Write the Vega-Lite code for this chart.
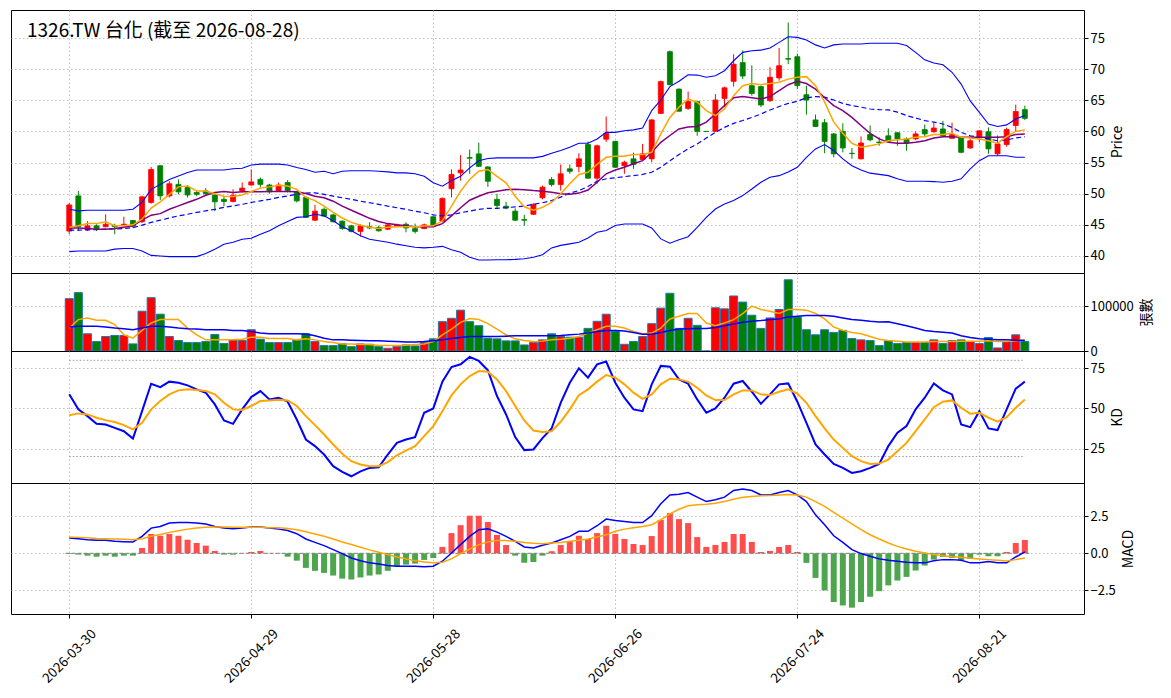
{
"$schema": "https://vega.github.io/schema/vega-lite/v6.json",
"background": "white",
"padding": {"left": 10, "top": 9, "right": 5, "bottom": 5},
"spacing": 0,
"bounds": "flush",
"datasets": {
"p": [
{"i":0,"date":"2026-03-30","o":44.0,"h":48.5,"l":43.5,"c":48.2,"v":116600,"ma5":44.6,"ma10":44.5,"ma20":44.15,"bbu":47.5,"bbl":40.7,"vma5":51100,"vma20":53400,"k":58.8,"d":45.8,"dif":1.04,"dea":1.10,"hist":-0.05},
{"i":1,"date":"2026-03-31","o":49.65,"h":50.45,"l":44.0,"c":44.7,"v":130100,"ma5":44.85,"ma10":44.5,"ma20":44.15,"bbu":47.25,"bbl":40.8,"vma5":70000,"vma20":54900,"k":49.4,"d":46.9,"dif":0.99,"dea":1.08,"hist":-0.09},
{"i":2,"date":"2026-04-01","o":44.2,"h":45.6,"l":44.0,"c":44.85,"v":38350,"ma5":45.2,"ma10":44.4,"ma20":44.2,"bbu":47.35,"bbl":40.8,"vma5":73700,"vma20":54900,"k":45.2,"d":46.25,"dif":0.92,"dea":1.06,"hist":-0.16},
{"i":3,"date":"2026-04-02","o":44.85,"h":45.1,"l":44.0,"c":44.4,"v":21050,"ma5":45.2,"ma10":44.3,"ma20":44.25,"bbu":47.35,"bbl":40.8,"vma5":68400,"vma20":54900,"k":40.4,"d":44.2,"dif":0.88,"dea":1.01,"hist":-0.23},
{"i":4,"date":"2026-04-07","o":44.7,"h":46.7,"l":44.6,"c":45.1,"v":32300,"ma5":45.5,"ma10":44.3,"ma20":44.3,"bbu":47.35,"bbl":40.8,"vma5":68400,"vma20":53400,"k":40.0,"d":42.7,"dif":0.88,"dea":0.99,"hist":-0.16},
{"i":5,"date":"2026-04-08","o":44.9,"h":45.2,"l":43.5,"c":44.7,"v":34600,"ma5":44.85,"ma10":44.4,"ma20":44.35,"bbu":47.35,"bbl":41.1,"vma5":58650,"vma20":51100,"k":37.9,"d":41.5,"dif":0.81,"dea":0.97,"hist":-0.23},
{"i":6,"date":"2026-04-09","o":44.85,"h":46.3,"l":44.6,"c":45.1,"v":34600,"ma5":44.85,"ma10":44.6,"ma20":44.4,"bbu":47.35,"bbl":41.2,"vma5":36100,"vma20":49500,"k":35.8,"d":39.6,"dif":0.79,"dea":0.95,"hist":-0.16},
{"i":7,"date":"2026-04-10","o":45.7,"h":45.8,"l":44.5,"c":44.8,"v":15800,"ma5":45.0,"ma10":44.85,"ma20":44.55,"bbu":47.5,"bbl":41.2,"vma5":28600,"vma20":47400,"k":31.25,"d":36.9,"dif":0.77,"dea":0.92,"hist":-0.16},
{"i":8,"date":"2026-04-13","o":45.5,"h":49.7,"l":45.3,"c":49.5,"v":88700,"ma5":45.9,"ma10":45.75,"ma20":44.95,"bbu":48.6,"bbl":40.8,"vma5":45900,"vma20":51100,"k":48.3,"d":41.0,"dif":1.15,"dea":0.99,"hist":0.36},
{"i":9,"date":"2026-04-14","o":48.6,"h":54.3,"l":48.4,"c":53.9,"v":118800,"ma5":47.7,"ma10":46.55,"ma20":45.4,"bbu":50.7,"bbl":40.1,"vma5":62400,"vma20":54900,"k":65.4,"d":49.4,"dif":1.71,"dea":1.15,"hist":1.31},
{"i":10,"date":"2026-04-15","o":54.5,"h":54.5,"l":49.0,"c":49.65,"v":82000,"ma5":48.7,"ma10":46.8,"ma20":45.75,"bbu":51.5,"bbl":40.0,"vma5":70000,"vma20":54900,"k":63.3,"d":54.6,"dif":1.82,"dea":1.28,"hist":1.19},
{"i":11,"date":"2026-04-16","o":49.65,"h":52.0,"l":49.4,"c":51.6,"v":32300,"ma5":49.9,"ma10":47.5,"ma20":46.1,"bbu":52.3,"bbl":39.9,"vma5":70000,"vma20":53400,"k":66.7,"d":58.75,"dif":2.05,"dea":1.42,"hist":1.31},
{"i":12,"date":"2026-04-17","o":51.5,"h":52.3,"l":49.9,"c":50.3,"v":23300,"ma5":51.1,"ma10":48.05,"ma20":46.45,"bbu":52.85,"bbl":39.9,"vma5":70000,"vma20":51100,"k":66.0,"d":61.25,"dif":2.09,"dea":1.53,"hist":1.19},
{"i":13,"date":"2026-04-20","o":51.0,"h":51.4,"l":49.4,"c":49.8,"v":18800,"ma5":51.25,"ma10":48.6,"ma20":46.7,"bbu":53.4,"bbl":39.9,"vma5":51100,"vma20":49600,"k":64.4,"d":61.9,"dif":2.09,"dea":1.64,"hist":0.92},
{"i":14,"date":"2026-04-21","o":50.2,"h":50.55,"l":49.6,"c":49.9,"v":18800,"ma5":50.45,"ma10":49.1,"ma20":47.0,"bbu":53.8,"bbl":39.9,"vma5":36100,"vma20":48900,"k":61.9,"d":61.5,"dif":2.05,"dea":1.71,"hist":0.70},
{"i":15,"date":"2026-04-22","o":50.45,"h":50.9,"l":49.8,"c":50.0,"v":21050,"ma5":50.45,"ma10":49.75,"ma20":47.25,"bbu":53.8,"bbl":40.4,"vma5":24800,"vma20":47400,"k":59.8,"d":60.8,"dif":1.98,"dea":1.76,"hist":0.52},
{"i":16,"date":"2026-04-23","o":49.8,"h":50.0,"l":47.2,"c":48.7,"v":36850,"ma5":50.0,"ma10":50.2,"ma20":47.5,"bbu":53.8,"bbl":41.1,"vma5":24800,"vma20":47400,"k":52.5,"d":58.75,"dif":1.82,"dea":1.78,"hist":0.16},
{"i":17,"date":"2026-04-24","o":49.1,"h":49.65,"l":48.0,"c":48.75,"v":16550,"ma5":49.6,"ma10":50.35,"ma20":47.8,"bbu":53.8,"bbl":41.9,"vma5":24800,"vma20":47400,"k":42.5,"d":53.5,"dif":1.71,"dea":1.78,"hist":-0.09},
{"i":18,"date":"2026-04-27","o":48.75,"h":50.7,"l":48.6,"c":49.75,"v":24800,"ma5":49.55,"ma10":50.2,"ma20":48.05,"bbu":54.0,"bbl":42.2,"vma5":24800,"vma20":45900,"k":40.4,"d":49.4,"dif":1.67,"dea":1.76,"hist":-0.09},
{"i":19,"date":"2026-04-28","o":50.45,"h":51.8,"l":50.2,"c":50.9,"v":23300,"ma5":49.8,"ma10":50.3,"ma20":48.3,"bbu":54.1,"bbl":42.7,"vma5":26300,"vma20":45900,"k":49.4,"d":49.0,"dif":1.71,"dea":1.76,"hist":0.0},
{"i":20,"date":"2026-04-29","o":51.4,"h":53.9,"l":51.3,"c":51.9,"v":47400,"ma5":50.35,"ma10":50.3,"ma20":48.6,"bbu":54.6,"bbl":42.85,"vma5":30800,"vma20":43600,"k":57.1,"d":51.5,"dif":1.78,"dea":1.76,"hist":0.09},
{"i":21,"date":"2026-04-30","o":52.3,"h":52.6,"l":51.0,"c":51.5,"v":26300,"ma5":50.9,"ma10":50.3,"ma20":48.85,"bbu":54.75,"bbl":43.5,"vma5":30800,"vma20":39900,"k":60.8,"d":54.6,"dif":1.78,"dea":1.76,"hist":0.16},
{"i":22,"date":"2026-05-04","o":51.4,"h":51.6,"l":50.0,"c":50.3,"v":18800,"ma5":51.1,"ma10":50.35,"ma20":49.1,"bbu":54.75,"bbl":44.05,"vma5":27800,"vma20":38350,"k":55.6,"d":55.0,"dif":1.71,"dea":1.73,"hist":0.01},
{"i":23,"date":"2026-05-05","o":50.45,"h":51.8,"l":50.3,"c":51.4,"v":18800,"ma5":51.35,"ma10":50.35,"ma20":49.4,"bbu":54.75,"bbl":44.85,"vma5":27800,"vma20":38350,"k":56.7,"d":55.4,"dif":1.64,"dea":1.73,"hist":-0.01},
{"i":24,"date":"2026-05-06","o":51.8,"h":52.2,"l":50.2,"c":50.5,"v":18800,"ma5":51.25,"ma10":50.35,"ma20":49.65,"bbu":54.6,"bbl":45.55,"vma5":27800,"vma20":38350,"k":54.2,"d":55.0,"dif":1.55,"dea":1.69,"hist":-0.23},
{"i":25,"date":"2026-05-07","o":50.3,"h":50.5,"l":48.6,"c":48.85,"v":24800,"ma5":50.7,"ma10":50.3,"ma20":49.9,"bbu":54.2,"bbl":46.2,"vma5":24800,"vma20":38350,"k":43.1,"d":51.5,"dif":1.33,"dea":1.60,"hist":-0.5},
{"i":26,"date":"2026-05-08","o":49.4,"h":49.6,"l":46.1,"c":46.2,"v":38350,"ma5":49.4,"ma10":50.05,"ma20":50.1,"bbu":53.9,"bbl":46.3,"vma5":27100,"vma20":38000,"k":30.6,"d":45.2,"dif":0.97,"dea":1.46,"hist":-0.99},
{"i":27,"date":"2026-05-11","o":45.75,"h":48.2,"l":45.6,"c":47.2,"v":21050,"ma5":48.9,"ma10":49.6,"ma20":50.15,"bbu":53.45,"bbl":46.7,"vma5":24800,"vma20":33800,"k":26.5,"d":39.6,"dif":0.74,"dea":1.31,"hist":-1.19},
{"i":28,"date":"2026-05-12","o":47.5,"h":47.8,"l":46.3,"c":46.4,"v":12000,"ma5":48.0,"ma10":49.35,"ma20":49.9,"bbu":53.6,"bbl":46.45,"vma5":21050,"vma20":28600,"k":21.25,"d":33.75,"dif":0.52,"dea":1.15,"hist":-1.33},
{"i":29,"date":"2026-05-13","o":46.6,"h":46.8,"l":45.4,"c":45.5,"v":12000,"ma5":47.0,"ma10":48.8,"ma20":49.6,"bbu":53.2,"bbl":45.65,"vma5":18800,"vma20":24800,"k":14.0,"d":27.5,"dif":0.25,"dea":0.97,"hist":-1.51},
{"i":30,"date":"2026-05-14","o":45.6,"h":45.7,"l":44.2,"c":44.4,"v":16550,"ma5":46.1,"ma10":48.0,"ma20":49.35,"bbu":53.6,"bbl":44.7,"vma5":15800,"vma20":24800,"k":10.4,"d":21.7,"dif":-0.02,"dea":0.77,"hist":-1.72},
{"i":31,"date":"2026-05-15","o":44.85,"h":45.0,"l":43.8,"c":43.95,"v":9800,"ma5":45.4,"ma10":47.35,"ma20":49.1,"bbu":53.7,"bbl":44.05,"vma5":15800,"vma20":24000,"k":7.7,"d":17.1,"dif":-0.32,"dea":0.59,"hist":-1.78},
{"i":32,"date":"2026-05-18","o":43.95,"h":45.1,"l":43.1,"c":44.85,"v":15800,"ma5":44.95,"ma10":46.7,"ma20":48.8,"bbu":53.7,"bbl":43.25,"vma5":14300,"vma20":23300,"k":10.8,"d":15.0,"dif":-0.50,"dea":0.41,"hist":-1.64},
{"i":33,"date":"2026-05-19","o":44.7,"h":45.4,"l":44.3,"c":44.5,"v":15000,"ma5":44.6,"ma10":46.05,"ma20":48.55,"bbu":53.7,"bbl":42.7,"vma5":14300,"vma20":22600,"k":12.9,"d":14.0,"dif":-0.65,"dea":0.23,"hist":-1.51},
{"i":34,"date":"2026-05-20","o":44.6,"h":44.85,"l":43.9,"c":44.05,"v":9800,"ma5":44.4,"ma10":45.55,"ma20":48.3,"bbu":53.6,"bbl":42.45,"vma5":12000,"vma20":22600,"k":13.3,"d":14.0,"dif":-0.72,"dea":0.07,"hist":-1.44},
{"i":35,"date":"2026-05-21","o":44.3,"h":45.2,"l":44.15,"c":45.0,"v":6000,"ma5":44.6,"ma10":45.2,"ma20":48.0,"bbu":53.5,"bbl":42.2,"vma5":12000,"vma20":21800,"k":21.25,"d":16.5,"dif":-0.83,"dea":-0.09,"hist":-1.19},
{"i":36,"date":"2026-05-22","o":44.8,"h":45.2,"l":44.7,"c":45.0,"v":9800,"ma5":44.7,"ma10":45.0,"ma20":47.75,"bbu":53.35,"bbl":41.9,"vma5":12000,"vma20":21050,"k":28.5,"d":20.8,"dif":-0.88,"dea":-0.25,"hist":-0.88},
{"i":37,"date":"2026-05-25","o":45.1,"h":45.4,"l":43.8,"c":44.5,"v":13500,"ma5":44.7,"ma10":44.85,"ma20":47.5,"bbu":53.35,"bbl":41.65,"vma5":12800,"vma20":20300,"k":30.6,"d":23.75,"dif":-0.88,"dea":-0.38,"hist":-0.77},
{"i":38,"date":"2026-05-26","o":44.4,"h":45.2,"l":43.6,"c":43.95,"v":11300,"ma5":44.7,"ma10":44.7,"ma20":47.2,"bbu":53.2,"bbl":41.4,"vma5":14300,"vma20":20300,"k":32.1,"d":26.5,"dif":-0.88,"dea":-0.50,"hist":-0.70},
{"i":39,"date":"2026-05-27","o":44.4,"h":45.2,"l":44.3,"c":45.0,"v":18800,"ma5":44.8,"ma10":44.7,"ma20":46.95,"bbu":52.8,"bbl":41.3,"vma5":15800,"vma20":21050,"k":47.3,"d":32.7,"dif":-0.92,"dea":-0.59,"hist":-0.45},
{"i":40,"date":"2026-05-28","o":46.3,"h":46.4,"l":44.7,"c":44.85,"v":27100,"ma5":44.85,"ma10":44.7,"ma20":46.6,"bbu":51.75,"bbl":41.4,"vma5":21050,"vma20":22600,"k":50.0,"d":39.0,"dif":-0.88,"dea":-0.65,"hist":-0.32},
{"i":41,"date":"2026-05-29","o":45.6,"h":49.4,"l":45.5,"c":49.25,"v":65400,"ma5":45.65,"ma10":45.2,"ma20":46.45,"bbu":51.2,"bbl":41.55,"vma5":36100,"vma20":24800,"k":66.7,"d":48.3,"dif":-0.54,"dea":-0.61,"hist":0.43},
{"i":42,"date":"2026-06-01","o":50.8,"h":53.9,"l":49.4,"c":53.1,"v":72900,"ma5":48.0,"ma10":46.45,"ma20":46.6,"bbu":52.1,"bbl":41.0,"vma5":48900,"vma20":27800,"k":75.8,"d":58.1,"dif":0.02,"dea":-0.38,"hist":1.37},
{"i":43,"date":"2026-06-02","o":53.35,"h":56.2,"l":52.1,"c":53.8,"v":91000,"ma5":50.4,"ma10":47.75,"ma20":46.95,"bbu":52.8,"bbl":40.6,"vma5":63900,"vma20":30100,"k":77.5,"d":65.0,"dif":0.59,"dea":-0.02,"hist":1.91},
{"i":44,"date":"2026-06-03","o":55.8,"h":57.1,"l":53.2,"c":55.7,"v":65400,"ma5":52.3,"ma10":48.95,"ma20":47.2,"bbu":54.15,"bbl":39.8,"vma5":72200,"vma20":32300,"k":82.1,"d":70.2,"dif":1.15,"dea":0.29,"hist":2.55},
{"i":45,"date":"2026-06-04","o":56.4,"h":58.2,"l":54.3,"c":54.4,"v":56400,"ma5":53.6,"ma10":49.6,"ma20":47.5,"bbu":55.3,"bbl":39.35,"vma5":70000,"vma20":32300,"k":79.6,"d":73.3,"dif":1.60,"dea":0.59,"hist":2.55},
{"i":46,"date":"2026-06-05","o":54.3,"h":54.4,"l":51.1,"c":52.0,"v":28600,"ma5":53.9,"ma10":50.15,"ma20":47.65,"bbu":55.65,"bbl":39.35,"vma5":60900,"vma20":32300,"k":73.75,"d":72.9,"dif":1.67,"dea":0.77,"hist":2.12},
{"i":47,"date":"2026-06-08","o":49.1,"h":50.0,"l":47.65,"c":48.1,"v":27100,"ma5":52.8,"ma10":50.4,"ma20":47.65,"bbu":55.75,"bbl":39.4,"vma5":48900,"vma20":32300,"k":57.7,"d":68.1,"dif":1.44,"dea":0.86,"hist":1.24},
{"i":48,"date":"2026-06-09","o":48.0,"h":48.7,"l":47.5,"c":47.7,"v":22560,"ma5":51.75,"ma10":50.65,"ma20":47.75,"bbu":55.75,"bbl":39.4,"vma5":36100,"vma20":33000,"k":46.25,"d":60.8,"dif":1.15,"dea":0.86,"hist":0.56},
{"i":49,"date":"2026-06-10","o":47.2,"h":47.65,"l":45.6,"c":45.75,"v":22560,"ma5":49.6,"ma10":50.7,"ma20":47.9,"bbu":55.75,"bbl":39.45,"vma5":27100,"vma20":33800,"k":32.1,"d":51.5,"dif":0.81,"dea":0.81,"hist":-0.16},
{"i":50,"date":"2026-06-11","o":45.85,"h":46.6,"l":44.85,"c":45.75,"v":13500,"ma5":47.9,"ma10":50.65,"ma20":48.0,"bbu":55.75,"bbl":39.55,"vma5":23300,"vma20":33800,"k":24.0,"d":42.5,"dif":0.43,"dea":0.74,"hist":-0.65},
{"i":51,"date":"2026-06-12","o":46.7,"h":48.45,"l":46.6,"c":48.3,"v":18800,"ma5":47.35,"ma10":50.5,"ma20":48.3,"bbu":55.75,"bbl":39.8,"vma5":21050,"vma20":33800,"k":24.4,"d":36.25,"dif":0.36,"dea":0.68,"hist":-0.59},
{"i":52,"date":"2026-06-15","o":49.35,"h":51.3,"l":49.1,"c":51.05,"v":24800,"ma5":47.8,"ma10":50.4,"ma20":48.55,"bbu":56.0,"bbl":40.2,"vma5":22000,"vma20":33800,"k":31.5,"d":35.3,"dif":0.55,"dea":0.64,"hist":-0.16},
{"i":53,"date":"2026-06-16","o":52.27,"h":52.65,"l":51.15,"c":51.47,"v":38350,"ma5":48.6,"ma10":50.25,"ma20":48.9,"bbu":56.5,"bbl":41.3,"vma5":24800,"vma20":33800,"k":37.5,"d":35.8,"dif":0.70,"dea":0.70,"hist":0.14},
{"i":54,"date":"2026-06-17","o":51.47,"h":54.7,"l":50.5,"c":53.2,"v":32300,"ma5":50.0,"ma10":50.0,"ma20":49.45,"bbu":56.95,"bbl":41.7,"vma5":26300,"vma20":34500,"k":53.5,"d":41.7,"dif":0.92,"dea":0.74,"hist":0.56},
{"i":55,"date":"2026-06-18","o":54.0,"h":54.7,"l":53.2,"c":53.6,"v":30800,"ma5":51.6,"ma10":49.9,"ma20":50.1,"bbu":57.45,"bbl":41.95,"vma5":28600,"vma20":36100,"k":66.0,"d":49.4,"dif":1.15,"dea":0.81,"hist":0.81},
{"i":56,"date":"2026-06-22","o":54.35,"h":56.5,"l":53.45,"c":55.6,"v":30800,"ma5":53.1,"ma10":50.1,"ma20":50.5,"bbu":58.1,"bbl":42.2,"vma5":32300,"vma20":37600,"k":75.0,"d":58.3,"dif":1.49,"dea":0.88,"hist":1.19},
{"i":57,"date":"2026-06-23","o":57.9,"h":58.4,"l":52.4,"c":52.5,"v":50400,"ma5":53.45,"ma10":50.6,"ma20":51.15,"bbu":58.1,"bbl":42.9,"vma5":39900,"vma20":39900,"k":69.2,"d":61.9,"dif":1.49,"dea":0.97,"hist":0.97},
{"i":58,"date":"2026-06-24","o":52.5,"h":57.9,"l":51.6,"c":57.7,"v":66200,"ma5":54.7,"ma10":51.85,"ma20":52.0,"bbu":58.8,"bbl":43.8,"vma5":47400,"vma20":43600,"k":77.5,"d":66.7,"dif":1.87,"dea":1.10,"hist":1.37},
{"i":59,"date":"2026-06-25","o":58.75,"h":62.4,"l":58.3,"c":59.7,"v":82000,"ma5":55.85,"ma10":53.2,"ma20":52.4,"bbu":59.85,"bbl":44.1,"vma5":54900,"vma20":45900,"k":79.2,"d":70.8,"dif":2.32,"dea":1.26,"hist":1.87},
{"i":60,"date":"2026-06-26","o":58.4,"h":58.5,"l":54.2,"c":54.25,"v":43600,"ma5":56.0,"ma10":53.8,"ma20":52.55,"bbu":59.85,"bbl":44.9,"vma5":54900,"vma20":45900,"k":66.0,"d":69.2,"dif":2.23,"dea":1.49,"hist":1.31},
{"i":61,"date":"2026-06-29","o":54.5,"h":55.3,"l":53.2,"c":55.05,"v":15000,"ma5":56.0,"ma10":54.25,"ma20":52.75,"bbu":60.1,"bbl":45.15,"vma5":51100,"vma20":44800,"k":56.7,"d":65.0,"dif":2.16,"dea":1.64,"hist":0.97},
{"i":62,"date":"2026-06-30","o":55.6,"h":56.6,"l":54.0,"c":54.7,"v":21050,"ma5":56.3,"ma10":54.8,"ma20":52.9,"bbu":60.25,"bbl":45.15,"vma5":43600,"vma20":41400,"k":49.4,"d":59.8,"dif":2.09,"dea":1.73,"hist":0.63},
{"i":63,"date":"2026-07-01","o":55.5,"h":58.0,"l":55.3,"c":56.4,"v":32300,"ma5":56.3,"ma10":55.3,"ma20":53.1,"bbu":60.55,"bbl":45.15,"vma5":38350,"vma20":37600,"k":48.3,"d":56.0,"dif":2.09,"dea":1.82,"hist":0.56},
{"i":64,"date":"2026-07-02","o":55.6,"h":62.0,"l":55.05,"c":61.85,"v":60900,"ma5":56.65,"ma10":56.65,"ma20":53.45,"bbu":63.35,"bbl":44.5,"vma5":39900,"vma20":37600,"k":65.0,"d":58.75,"dif":2.55,"dea":1.94,"hist":1.17},
{"i":65,"date":"2026-07-03","o":62.9,"h":68.15,"l":62.8,"c":68.0,"v":95500,"ma5":59.6,"ma10":58.25,"ma20":54.25,"bbu":65.05,"bbl":42.75,"vma5":51100,"vma20":41400,"k":76.5,"d":65.0,"dif":3.36,"dea":2.27,"hist":2.27},
{"i":66,"date":"2026-07-06","o":72.8,"h":73.0,"l":67.4,"c":67.5,"v":128600,"ma5":62.25,"ma10":59.35,"ma20":55.3,"bbu":67.2,"bbl":42.05,"vma5":71400,"vma20":45900,"k":76.0,"d":68.5,"dif":3.96,"dea":2.68,"hist":2.73},
{"i":67,"date":"2026-07-07","o":66.8,"h":66.9,"l":63.2,"c":63.25,"v":50400,"ma5":63.9,"ma10":60.4,"ma20":56.3,"bbu":68.05,"bbl":42.6,"vma5":77500,"vma20":48900,"k":68.1,"d":68.1,"dif":4.01,"dea":2.99,"hist":2.32},
{"i":68,"date":"2026-07-08","o":63.7,"h":66.4,"l":63.45,"c":64.8,"v":72900,"ma5":65.2,"ma10":60.7,"ma20":57.2,"bbu":69.1,"bbl":43.1,"vma5":83500,"vma20":49500,"k":65.4,"d":66.7,"dif":4.12,"dea":3.22,"hist":2.05},
{"i":69,"date":"2026-07-09","o":64.8,"h":64.95,"l":59.3,"c":60.0,"v":57150,"ma5":64.7,"ma10":60.8,"ma20":58.0,"bbu":69.05,"bbl":44.6,"vma5":83500,"vma20":50400,"k":55.6,"d":62.9,"dif":3.81,"dea":3.29,"hist":1.10},
{"i":70,"date":"2026-07-10","o":60.0,"h":60.0,"l":60.0,"c":60.0,"v":0,"ma5":63.35,"ma10":61.5,"ma20":58.95,"bbu":68.7,"bbl":46.2,"vma5":62400,"vma20":50400,"k":47.3,"d":58.1,"dif":3.51,"dea":3.33,"hist":0.43},
{"i":71,"date":"2026-07-13","o":60.0,"h":66.0,"l":60.0,"c":65.05,"v":96300,"ma5":62.55,"ma10":62.8,"ma20":59.85,"bbu":68.95,"bbl":47.55,"vma5":56400,"vma20":52600,"k":50.0,"d":55.2,"dif":3.63,"dea":3.40,"hist":0.56},
{"i":72,"date":"2026-07-14","o":65.3,"h":67.2,"l":63.9,"c":67.0,"v":94000,"ma5":63.6,"ma10":64.15,"ma20":60.65,"bbu":69.75,"bbl":48.35,"vma5":62400,"vma20":56400,"k":56.7,"d":55.2,"dif":3.81,"dea":3.51,"hist":0.77},
{"i":73,"date":"2026-07-15","o":68.05,"h":72.4,"l":67.2,"c":70.8,"v":122600,"ma5":65.75,"ma10":65.4,"ma20":61.3,"bbu":71.35,"bbl":48.9,"vma5":70000,"vma20":60200,"k":65.4,"d":58.75,"dif":4.26,"dea":3.67,"hist":1.31},
{"i":74,"date":"2026-07-16","o":71.05,"h":73.0,"l":68.4,"c":68.9,"v":109000,"ma5":67.35,"ma10":65.6,"ma20":61.75,"bbu":72.7,"bbl":49.7,"vma5":83500,"vma20":63900,"k":67.1,"d":61.25,"dif":4.37,"dea":3.81,"hist":1.31},
{"i":75,"date":"2026-07-17","o":67.35,"h":70.6,"l":65.75,"c":66.1,"v":79700,"ma5":67.7,"ma10":65.4,"ma20":62.25,"bbu":72.95,"bbl":50.75,"vma5":100000,"vma20":66200,"k":60.4,"d":61.25,"dif":4.26,"dea":3.85,"hist":0.77},
{"i":76,"date":"2026-07-20","o":67.2,"h":67.35,"l":63.9,"c":64.25,"v":50400,"ma5":67.5,"ma10":65.2,"ma20":62.8,"bbu":73.05,"bbl":51.85,"vma5":92500,"vma20":67700,"k":52.9,"d":58.75,"dif":3.96,"dea":3.90,"hist":0.09},
{"i":77,"date":"2026-07-21","o":64.95,"h":70.3,"l":64.7,"c":68.7,"v":73700,"ma5":67.7,"ma10":65.6,"ma20":63.45,"bbu":73.4,"bbl":52.65,"vma5":88700,"vma20":70000,"k":58.75,"d":58.3,"dif":3.96,"dea":3.92,"hist":0.16},
{"i":78,"date":"2026-07-22","o":68.6,"h":73.4,"l":68.15,"c":70.55,"v":92500,"ma5":67.9,"ma10":66.55,"ma20":64.0,"bbu":74.3,"bbl":52.9,"vma5":83500,"vma20":71400,"k":65.0,"d":60.4,"dif":4.12,"dea":3.96,"hist":0.43},
{"i":79,"date":"2026-07-23","o":71.7,"h":77.5,"l":70.8,"c":71.6,"v":158700,"ma5":68.4,"ma10":67.5,"ma20":64.5,"bbu":75.2,"bbl":53.5,"vma5":92500,"vma20":76000,"k":65.6,"d":61.9,"dif":4.26,"dea":3.99,"hist":0.56},
{"i":80,"date":"2026-07-24","o":72.0,"h":72.5,"l":66.8,"c":67.35,"v":76000,"ma5":68.7,"ma10":68.05,"ma20":64.85,"bbu":75.1,"bbl":54.25,"vma5":92500,"vma20":77500,"k":54.2,"d":59.2,"dif":3.96,"dea":3.96,"hist":0.09},
{"i":81,"date":"2026-07-27","o":65.9,"h":67.35,"l":62.7,"c":65.05,"v":47400,"ma5":68.8,"ma10":67.7,"ma20":65.4,"bbu":74.7,"bbl":55.85,"vma5":91000,"vma20":79000,"k":41.0,"d":53.5,"dif":3.51,"dea":3.81,"hist":-0.65},
{"i":82,"date":"2026-07-28","o":61.85,"h":62.7,"l":60.7,"c":60.8,"v":36100,"ma5":67.35,"ma10":66.8,"ma20":65.6,"bbu":73.9,"bbl":57.2,"vma5":83500,"vma20":79000,"k":27.5,"d":45.2,"dif":2.61,"dea":3.51,"hist":-1.67},
{"i":83,"date":"2026-07-29","o":61.4,"h":62.0,"l":56.5,"c":58.4,"v":47400,"ma5":64.7,"ma10":65.4,"ma20":65.5,"bbu":73.4,"bbl":57.9,"vma5":71400,"vma20":79000,"k":21.25,"d":37.5,"dif":1.94,"dea":3.18,"hist":-2.52},
{"i":84,"date":"2026-07-30","o":59.6,"h":59.75,"l":55.85,"c":56.4,"v":41400,"ma5":61.5,"ma10":64.15,"ma20":65.05,"bbu":73.9,"bbl":56.95,"vma5":53400,"vma20":77500,"k":15.4,"d":30.6,"dif":1.19,"dea":2.77,"hist":-3.31},
{"i":85,"date":"2026-07-31","o":60.0,"h":61.3,"l":56.65,"c":57.35,"v":45900,"ma5":59.7,"ma10":63.35,"ma20":64.5,"bbu":74.05,"bbl":55.6,"vma5":45900,"vma20":73700,"k":12.9,"d":25.4,"dif":0.74,"dea":2.39,"hist":-3.54},
{"i":86,"date":"2026-08-03","o":56.5,"h":57.35,"l":55.6,"c":56.45,"v":27800,"ma5":58.1,"ma10":62.25,"ma20":64.15,"bbu":74.05,"bbl":54.5,"vma5":41400,"vma20":70000,"k":9.8,"d":20.2,"dif":0.25,"dea":2.00,"hist":-3.69},
{"i":87,"date":"2026-08-04","o":55.6,"h":59.2,"l":55.5,"c":58.15,"v":24800,"ma5":57.45,"ma10":60.95,"ma20":63.9,"bbu":74.05,"bbl":53.8,"vma5":38350,"vma20":68400,"k":10.8,"d":17.1,"dif":-0.02,"dea":1.60,"hist":-3.31},
{"i":88,"date":"2026-08-05","o":59.5,"h":60.95,"l":58.4,"c":58.65,"v":23300,"ma5":57.7,"ma10":59.7,"ma20":63.6,"bbu":74.15,"bbl":53.3,"vma5":32300,"vma20":66200,"k":12.9,"d":15.4,"dif":-0.20,"dea":1.26,"hist":-2.95},
{"i":89,"date":"2026-08-06","o":58.3,"h":59.05,"l":57.7,"c":58.2,"v":12000,"ma5":58.0,"ma10":58.8,"ma20":63.5,"bbu":74.15,"bbl":53.1,"vma5":26300,"vma20":64700,"k":15.4,"d":15.6,"dif":-0.38,"dea":0.97,"hist":-2.57},
{"i":90,"date":"2026-08-07","o":59.3,"h":60.5,"l":58.15,"c":58.4,"v":22560,"ma5":58.5,"ma10":58.25,"ma20":63.45,"bbu":74.15,"bbl":52.9,"vma5":23300,"vma20":65400,"k":26.5,"d":18.1,"dif":-0.47,"dea":0.70,"hist":-2.18},
{"i":91,"date":"2026-08-10","o":59.8,"h":59.85,"l":57.7,"c":58.8,"v":16550,"ma5":58.65,"ma10":58.1,"ma20":63.1,"bbu":74.15,"bbl":52.4,"vma5":21800,"vma20":60900,"k":34.8,"d":23.3,"dif":-0.54,"dea":0.47,"hist":-1.85},
{"i":92,"date":"2026-08-11","o":58.8,"h":59.05,"l":56.9,"c":58.15,"v":18800,"ma5":58.8,"ma10":58.1,"ma20":62.55,"bbu":73.8,"bbl":52.0,"vma5":20300,"vma20":56400,"k":39.0,"d":28.5,"dif":-0.61,"dea":0.29,"hist":-1.60},
{"i":93,"date":"2026-08-12","o":58.8,"h":60.0,"l":58.6,"c":59.6,"v":18800,"ma5":59.05,"ma10":58.25,"ma20":62.15,"bbu":72.7,"bbl":52.0,"vma5":20300,"vma20":51100,"k":49.4,"d":35.8,"dif":-0.65,"dea":0.14,"hist":-1.17},
{"i":94,"date":"2026-08-13","o":60.3,"h":61.1,"l":59.2,"c":59.6,"v":18800,"ma5":59.15,"ma10":58.5,"ma20":61.75,"bbu":71.5,"bbl":52.0,"vma5":20300,"vma20":45900,"k":56.7,"d":43.1,"dif":-0.65,"dea":0.02,"hist":-0.83},
{"i":95,"date":"2026-08-14","o":59.95,"h":61.45,"l":59.8,"c":60.55,"v":24800,"ma5":59.5,"ma10":58.95,"ma20":61.5,"bbu":71.0,"bbl":51.95,"vma5":21050,"vma20":43600,"k":65.6,"d":50.8,"dif":-0.50,"dea":-0.09,"hist":-0.43},
{"i":96,"date":"2026-08-17","o":60.4,"h":61.7,"l":59.05,"c":59.3,"v":16550,"ma5":59.5,"ma10":59.15,"ma20":61.2,"bbu":70.7,"bbl":51.85,"vma5":21050,"vma20":42000,"k":61.25,"d":54.2,"dif":-0.43,"dea":-0.16,"hist":-0.25},
{"i":97,"date":"2026-08-18","o":58.9,"h":61.4,"l":58.8,"c":59.5,"v":23300,"ma5":59.7,"ma10":59.15,"ma20":60.65,"bbu":69.5,"bbl":52.0,"vma5":21050,"vma20":39900,"k":58.75,"d":55.0,"dif":-0.43,"dea":-0.23,"hist":-0.32},
{"i":98,"date":"2026-08-19","o":58.95,"h":59.05,"l":56.5,"c":56.65,"v":24800,"ma5":59.05,"ma10":59.05,"ma20":59.85,"bbu":67.6,"bbl":52.4,"vma5":21800,"vma20":33800,"k":40.0,"d":50.4,"dif":-0.47,"dea":-0.27,"hist":-0.47},
{"i":99,"date":"2026-08-20","o":57.35,"h":58.8,"l":57.2,"c":58.5,"v":21050,"ma5":58.95,"ma10":59.05,"ma20":59.3,"bbu":64.9,"bbl":54.0,"vma5":21800,"vma20":30100,"k":38.3,"d":46.7,"dif":-0.65,"dea":-0.34,"hist":-0.38},
{"i":100,"date":"2026-08-21","o":59.05,"h":60.2,"l":58.25,"c":60.1,"v":16550,"ma5":58.8,"ma10":59.05,"ma20":59.05,"bbu":63.05,"bbl":55.3,"vma5":21800,"vma20":27100,"k":48.3,"d":47.3,"dif":-0.65,"dea":-0.38,"hist":-0.09},
{"i":101,"date":"2026-08-24","o":59.95,"h":60.65,"l":56.4,"c":57.2,"v":30100,"ma5":58.5,"ma10":59.05,"ma20":58.8,"bbu":61.2,"bbl":56.1,"vma5":22600,"vma20":26000,"k":37.5,"d":44.2,"dif":-0.56,"dea":-0.43,"hist":-0.20},
{"i":102,"date":"2026-08-25","o":56.4,"h":59.35,"l":56.1,"c":58.0,"v":6800,"ma5":58.1,"ma10":59.05,"ma20":58.5,"bbu":60.8,"bbl":56.1,"vma5":21050,"vma20":24800,"k":36.5,"d":41.7,"dif":-0.65,"dea":-0.47,"hist":-0.20},
{"i":103,"date":"2026-08-26","o":57.9,"h":60.6,"l":57.55,"c":60.3,"v":21050,"ma5":59.15,"ma10":59.15,"ma20":58.65,"bbu":61.05,"bbl":56.1,"vma5":21050,"vma20":24800,"k":49.4,"d":44.6,"dif":-0.65,"dea":-0.52,"hist":0.09},
{"i":104,"date":"2026-08-27","o":60.95,"h":64.3,"l":60.0,"c":63.2,"v":36100,"ma5":60.0,"ma10":59.5,"ma20":58.95,"bbu":62.0,"bbl":55.85,"vma5":22600,"vma20":24000,"k":62.3,"d":50.4,"dif":-0.25,"dea":-0.43,"hist":0.70},
{"i":105,"date":"2026-08-28","o":63.5,"h":64.15,"l":61.85,"c":62.1,"v":21050,"ma5":60.25,"ma10":59.6,"ma20":59.15,"bbu":62.55,"bbl":55.85,"vma5":24800,"vma20":23300,"k":66.7,"d":55.6,"dif":0.09,"dea":-0.32,"hist":0.90}
],
"kdlev": [{"lv":80,"s":0,"e":105},{"lv":20,"s":0,"e":105}],
"zero": [{"lv":0,"s":-0.4,"e":105.5}]
},
"config": {
"view": {"stroke": "black", "strokeWidth": 1},
"axis": {"gridColor": "#b0b0b0", "gridDash": [1.5, 2.5], "gridWidth": 0.8, "domain": false, "tickColor": "black", "tickSize": 4, "labelFont": "Noto Sans CJK TC", "labelFontSize": 13, "labelColor": "black", "titleFont": "Noto Sans CJK TC", "titleFontSize": 14, "titleFontWeight": "normal", "titleColor": "black"}
},
"vconcat": [
{
"width": 1073, "height": 263,
"title": {"text": "1326.TW 台化 (截至 2026-08-28)", "anchor": "start", "orient": "top", "offset": -31, "dx": 16, "font": "Noto Sans CJK TC", "fontSize": 19, "fontWeight": "normal", "color": "black"},
"data": {"name": "p"},
"resolve": {"axis": {"y": "independent"}},
"encoding": {"x": {"field": "i", "type": "quantitative", "scale": {"domain": [-6.4, 111.5], "nice": false, "zero": false, "padding": 0}, "axis": {"values": [0,20,40,60,80,100], "labels": false, "ticks": false, "title": null, "grid": true, "minExtent": 0, "maxExtent": 0}}},
"layer": [
{"mark": {"type": "rule", "strokeWidth": 1}, "encoding": {"y": {"field": "l", "type": "quantitative", "scale": {"domain": [37.27, 79.5], "nice": false, "zero": false}, "axis": {"orient": "right", "values": [40,45,50,55,60,65,70,75], "title": "Price", "titleAngle": 270, "titleBaseline": "top", "titlePadding": 6, "grid": true}}, "y2": {"field": "h"}, "color": {"condition": {"test": "datum.c > datum.o", "value": "#ff0000"}, "value": "#008000"}}},
{"mark": {"type": "bar", "size": 5, "strokeWidth": 0.8}, "encoding": {"y": {"field": "o", "type": "quantitative", "axis": null}, "y2": {"field": "c"}, "fill": {"condition": {"test": "datum.c > datum.o", "value": "#ff0000"}, "value": "#008000"}, "stroke": {"condition": {"test": "datum.c > datum.o", "value": "#ff0000"}, "value": "#008000"}}},
{"mark": {"type": "line", "color": "#0000ff", "strokeWidth": 1.1}, "encoding": {"y": {"field": "bbu", "type": "quantitative", "axis": null}}},
{"mark": {"type": "line", "color": "#0000ff", "strokeWidth": 1.1}, "encoding": {"y": {"field": "bbl", "type": "quantitative", "axis": null}}},
{"mark": {"type": "line", "color": "#0000ff", "strokeWidth": 1.2, "strokeDash": [5, 3]}, "encoding": {"y": {"field": "ma20", "type": "quantitative", "axis": null}}},
{"mark": {"type": "line", "color": "#800080", "strokeWidth": 1.5}, "encoding": {"y": {"field": "ma10", "type": "quantitative", "axis": null}}},
{"mark": {"type": "line", "color": "#ffa500", "strokeWidth": 1.5}, "encoding": {"y": {"field": "ma5", "type": "quantitative", "axis": null}}}
]
},
{
"width": 1073, "height": 78,
"data": {"name": "p"},
"resolve": {"axis": {"y": "independent"}},
"encoding": {"x": {"field": "i", "type": "quantitative", "scale": {"domain": [-6.4, 111.5], "nice": false, "zero": false, "padding": 0}, "axis": {"values": [0,20,40,60,80,100], "labels": false, "ticks": false, "title": null, "grid": true, "minExtent": 0, "maxExtent": 0}}},
"layer": [
{"mark": {"type": "bar", "size": 8, "stroke": "#1f77b4", "strokeWidth": 1}, "encoding": {"y": {"field": "v", "type": "quantitative", "scale": {"domain": [0, 173800], "nice": false}, "axis": {"orient": "right", "values": [0, 100000], "format": "d", "title": "張數", "titleAngle": 270, "titleBaseline": "top", "titlePadding": 6, "grid": true}}, "fill": {"condition": {"test": "datum.c > datum.o", "value": "#ff0000"}, "value": "#008000"}}},
{"mark": {"type": "line", "color": "#ffa500", "strokeWidth": 1.5}, "encoding": {"y": {"field": "vma5", "type": "quantitative", "axis": null}}},
{"mark": {"type": "line", "color": "#0000ff", "strokeWidth": 1.5}, "encoding": {"y": {"field": "vma20", "type": "quantitative", "axis": null}}}
]
},
{
"width": 1073, "height": 132,
"resolve": {"axis": {"y": "independent"}},
"encoding": {"x": {"field": "i", "type": "quantitative", "scale": {"domain": [-6.4, 111.5], "nice": false, "zero": false, "padding": 0}, "axis": {"values": [0,20,40,60,80,100], "labels": false, "ticks": false, "title": null, "grid": true, "minExtent": 0, "maxExtent": 0}}},
"layer": [
{"data": {"name": "kdlev"}, "mark": {"type": "rule", "color": "#909090", "strokeWidth": 0.9, "strokeDash": [1.5, 2]}, "encoding": {"x": {"field": "s", "type": "quantitative"}, "x2": {"field": "e"}, "y": {"field": "lv", "type": "quantitative", "scale": {"domain": [3.5, 85.8], "nice": false, "zero": false}, "axis": {"orient": "right", "values": [25, 50, 75], "title": "KD", "titleAngle": 270, "titleBaseline": "top", "titlePadding": 6, "grid": true}}}},
{"data": {"name": "p"}, "mark": {"type": "line", "color": "#0000ff", "strokeWidth": 2}, "encoding": {"y": {"field": "k", "type": "quantitative", "axis": null}}},
{"data": {"name": "p"}, "mark": {"type": "line", "color": "#ffa500", "strokeWidth": 2}, "encoding": {"y": {"field": "d", "type": "quantitative", "axis": null}}}
]
},
{
"width": 1073, "height": 131,
"resolve": {"axis": {"y": "independent"}},
"encoding": {"x": {"field": "i", "type": "quantitative", "scale": {"domain": [-6.4, 111.5], "nice": false, "zero": false, "padding": 0}, "axis": {"values": [0,20,40,60,80,100], "title": null, "grid": true, "labelAngle": -45, "labelAlign": "center", "labelBaseline": "middle", "labelPadding": 38, "labelOverlap": false, "labelFlush": false, "labelFontSize": 13.5, "labelExpr": "datum.value == 0 ? '2026-03-30' : datum.value == 20 ? '2026-04-29' : datum.value == 40 ? '2026-05-28' : datum.value == 60 ? '2026-06-26' : datum.value == 80 ? '2026-07-24' : '2026-08-21'"}}},
"layer": [
{"data": {"name": "p"}, "mark": {"type": "bar", "size": 6}, "encoding": {"y": {"field": "hist", "type": "quantitative", "scale": {"domain": [-4.12, 4.77], "nice": false, "zero": false}, "axis": {"orient": "right", "values": [-2.5, 0, 2.5], "format": ".1f", "title": "MACD", "titleAngle": 270, "titleBaseline": "top", "titlePadding": 6, "grid": true}}, "fill": {"condition": {"test": "datum.hist > 0", "value": "#ff4d4d"}, "value": "#4da64d"}}},
{"data": {"name": "zero"}, "mark": {"type": "rule", "color": "#808080", "strokeWidth": 1, "strokeDash": [4, 2]}, "encoding": {"x": {"field": "s", "type": "quantitative"}, "x2": {"field": "e"}, "y": {"field": "lv", "type": "quantitative", "axis": null}}},
{"data": {"name": "p"}, "mark": {"type": "line", "color": "#0000ff", "strokeWidth": 1.5}, "encoding": {"y": {"field": "dif", "type": "quantitative", "axis": null}}},
{"data": {"name": "p"}, "mark": {"type": "line", "color": "#ffa500", "strokeWidth": 1.5}, "encoding": {"y": {"field": "dea", "type": "quantitative", "axis": null}}}
]
}
]
}
